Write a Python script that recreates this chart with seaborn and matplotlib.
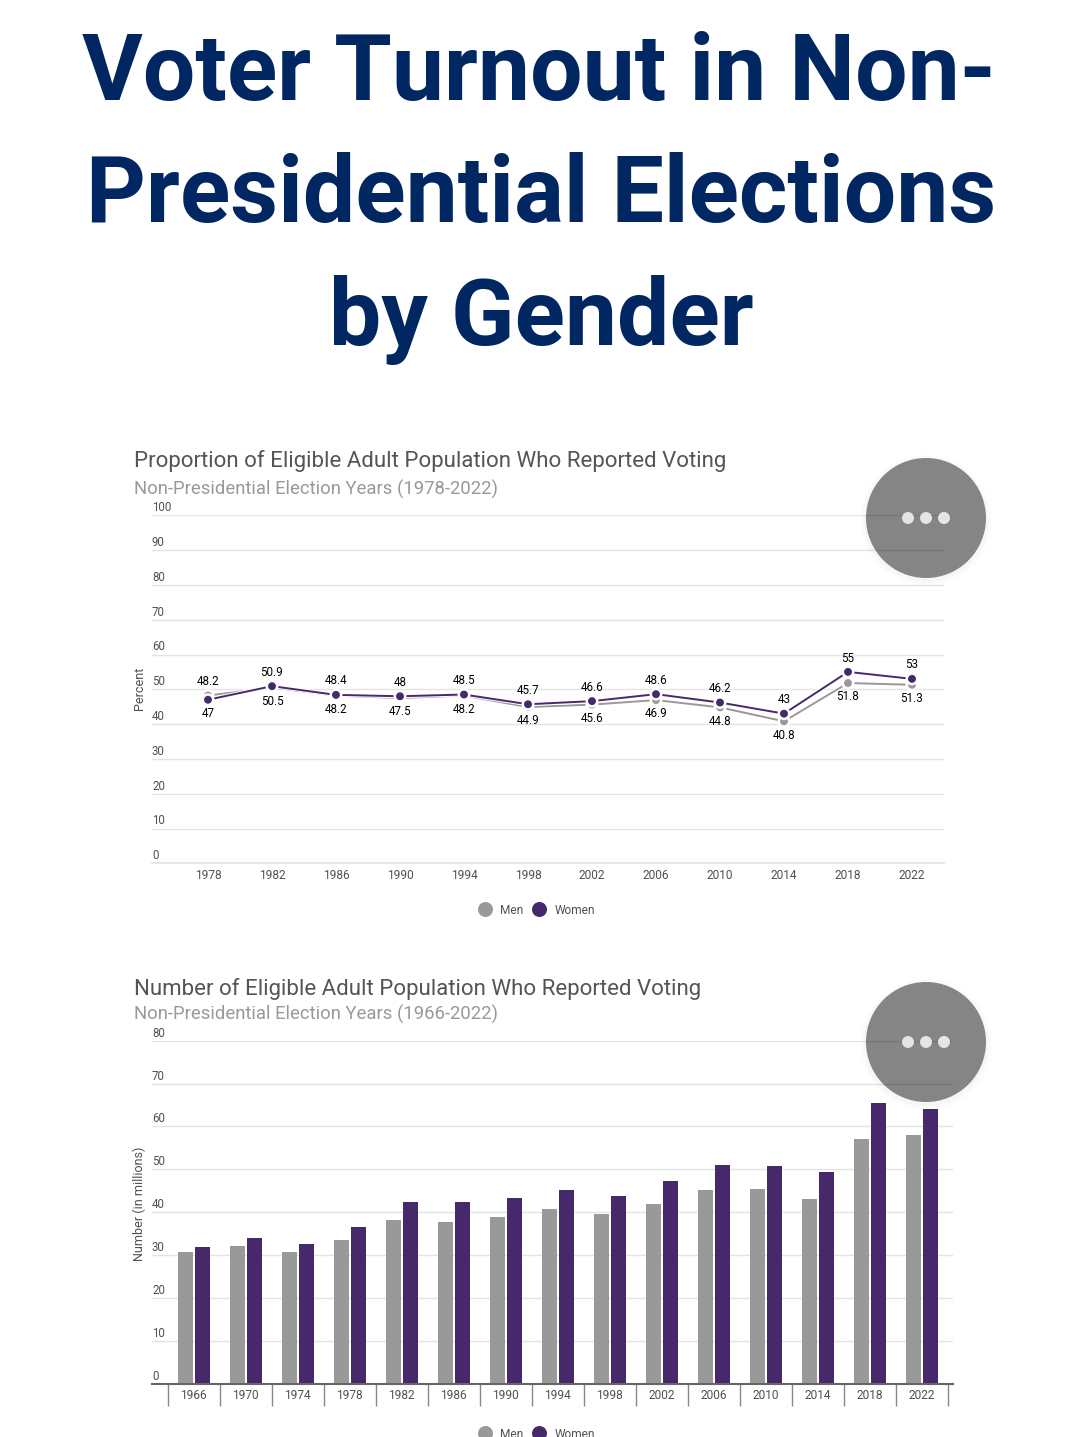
import matplotlib
matplotlib.use('Agg')
import matplotlib.pyplot as plt
import matplotlib.patheffects as pe
from matplotlib.lines import Line2D
from matplotlib.patches import Circle
from matplotlib.transforms import ScaledTranslation
import seaborn as sns
import pandas as pd

W, H = 1079, 1437

# Dados - percentual
anos_pct = ['1978', '1982', '1986', '1990', '1994', '1998', '2002', '2006', '2010', '2014', '2018', '2022']
men_pct = [48.2, 50.5, 48.2, 47.5, 48.2, 44.9, 45.6, 46.9, 44.8, 40.8, 51.8, 51.3]
women_pct = [47, 50.9, 48.4, 48, 48.5, 45.7, 46.6, 48.6, 46.2, 43, 55, 53]

# Dados - milhoes
anos_num = ['1966', '1970', '1974', '1978', '1982', '1986', '1990', '1994', '1998', '2002', '2006', '2010',
            '2014', '2018', '2022']
men_num = [30.8, 32.1, 30.8, 33.4, 38.1, 37.8, 38.8, 40.7, 39.5, 41.9, 45.1, 45.5, 43.1, 57.0, 58.1]
women_num = [31.9, 33.9, 32.6, 36.5, 42.4, 42.3, 43.4, 45.1, 43.8, 47.2, 51.1, 50.7, 49.3, 65.4, 64.1]

CINZA = '#999999'
ROXO = '#45296b'
GRADE = '#e4e4e4'
TEXTO = '#505050'
cores = {'Men': CINZA, 'Women': ROXO}

df_pct = pd.DataFrame({'ano': anos_pct * 2, 'valor': men_pct + women_pct,
                       'grupo': ['Men'] * len(anos_pct) + ['Women'] * len(anos_pct)})
df_num = pd.DataFrame({'ano': anos_num * 2, 'valor': men_num + women_num,
                       'grupo': ['Men'] * len(anos_num) + ['Women'] * len(anos_num)})

sns.set_theme(style='white')
plt.rcParams['font.family'] = ['Roboto', 'DejaVu Sans']

fig = plt.figure(figsize=(W / 100, H / 100), dpi=100)


def eixo(x0, x1, y_top, y_base):
    return fig.add_axes([x0 / W, 1 - y_base / H, (x1 - x0) / W, (y_base - y_top) / H])


def texto(x, y, s, **kw):
    fig.text(x / W, 1 - y / H, s, va='baseline', **kw)


def estilo(ax, yticks, rotulo, y_rot):
    ax.set_yticks(yticks)
    ax.set_yticklabels([str(v) for v in yticks], ha='left', va='bottom')
    ax.tick_params(axis='y', length=0, pad=0, labelsize=8.3, labelcolor=TEXTO)
    ax.tick_params(axis='x', length=0, labelsize=8.6, labelcolor=TEXTO, pad=4)
    sobe = ScaledTranslation(0, 1 / 100, fig.dpi_scale_trans)
    for t in ax.get_yticklabels():
        t.set_transform(t.get_transform() + sobe)
    ax.grid(axis='y', color=GRADE, lw=1)
    ax.set_axisbelow(True)
    sns.despine(ax=ax, left=True)
    ax.set_xlabel('')
    ax.set_ylabel(rotulo, fontsize=9.0, color=TEXTO)
    ax.yaxis.set_label_coords(-6 / ax.bbox.width, y_rot)


def legenda(ax, y):
    handles = [Line2D([], [], ls='', marker='o', ms=10.8, mfc=cores[k], mec='none', label=k) for k in cores]
    ax.legend(handles=handles, loc='center', bbox_to_anchor=(537 / W, 1 - y / H), bbox_transform=fig.transFigure,
              ncol=2, frameon=False, fontsize=8.6, labelcolor=TEXTO, handlelength=1, handletextpad=0.75,
              columnspacing=0.86)


# Titulo
for x, y, linha in zip([539, 541, 541], [100, 222, 345], ['Voter Turnout in Non-', 'Presidential Elections', 'by Gender']):
    texto(x, y, linha, ha='center', fontsize=67, fontweight='bold', color='#002762')

# Grafico de linhas
ax1 = eixo(152, 944, 515.3, 863.3)
sns.lineplot(data=df_pct, x='ano', y='valor', hue='grupo', palette=cores, marker='o', ms=6.5, mec='white', mew=0.8,
             lw=1.4, legend=False, ax=ax1, sort=False,
             path_effects=[pe.withStroke(linewidth=2.8, foreground='white')])
ax1.set_ylim(0, 100)
ax1.set_xlim(-0.875, 11.5)
estilo(ax1, list(range(0, 101, 10)), 'Percent', 0.504)
ax1.spines['bottom'].set_color(GRADE)

for i, ano in enumerate(anos_pct):
    alto = max(men_pct[i], women_pct[i])
    baixo = min(men_pct[i], women_pct[i])
    ax1.annotate(f'{alto:g}', (i, alto), xytext=(0, 10), textcoords='offset points', ha='center', va='center',
                 fontsize=8.4, color='black')
    ax1.annotate(f'{baixo:g}', (i, baixo), xytext=(0, -10), textcoords='offset points', ha='center', va='center',
                 fontsize=8.4, color='black')

legenda(ax1, 910)
texto(134, 467, 'Proportion of Eligible Adult Population Who Reported Voting', fontsize=16.03, color='#555555')
texto(134, 495, 'Non-Presidential Election Years (1978-2022)', fontsize=13.3, color='#999999')

# Grafico de barras
ax2 = eixo(152, 953, 1040.7, 1383.7)
sns.barplot(data=df_num, x='ano', y='valor', hue='grupo', palette=cores, width=0.642, gap=0.1, saturation=1,
            legend=False, ax=ax2, linewidth=0)
ax2.set_ylim(0, 80)
ax2.set_xlim(-41.7 / 52, 14 + 31.3 / 52)
estilo(ax2, list(range(0, 81, 10)), 'Number (in millions)', 0.525)
ax2.spines['bottom'].set_color('#666666')
ax2.spines['bottom'].set_linewidth(1.5)
ax2.set_xticks([i - 0.5 for i in range(len(anos_num) + 1)], minor=True)
ax2.tick_params(axis='x', which='minor', bottom=True, length=16, width=1, color='#888888', direction='out')
ax2.tick_params(axis='x', which='major', pad=4)

legenda(ax2, 1434)
texto(134, 995, 'Number of Eligible Adult Population Who Reported Voting', fontsize=16.03, color='#555555')
texto(134, 1020, 'Non-Presidential Election Years (1966-2022)', fontsize=13.3, color='#999999')

# Botoes flutuantes
over = fig.add_axes([0, 0, 1, 1], zorder=10)
over.set_xlim(0, W)
over.set_ylim(H, 0)
over.axis('off')
over.patch.set_alpha(0)
for cy in [518, 1042]:
    for r, a in [(66, 0.006), (64, 0.01), (62, 0.015)]:
        over.add_patch(Circle((926, cy + 2), r, color='black', alpha=a, lw=0))
    over.add_patch(Circle((926, cy), 60, color='black', alpha=0.46, lw=0))
    for cx in [908, 926, 944]:
        over.add_patch(Circle((cx, cy), 6, color='#e4e4e4', lw=0))

fig.savefig('out.png', dpi=100)
